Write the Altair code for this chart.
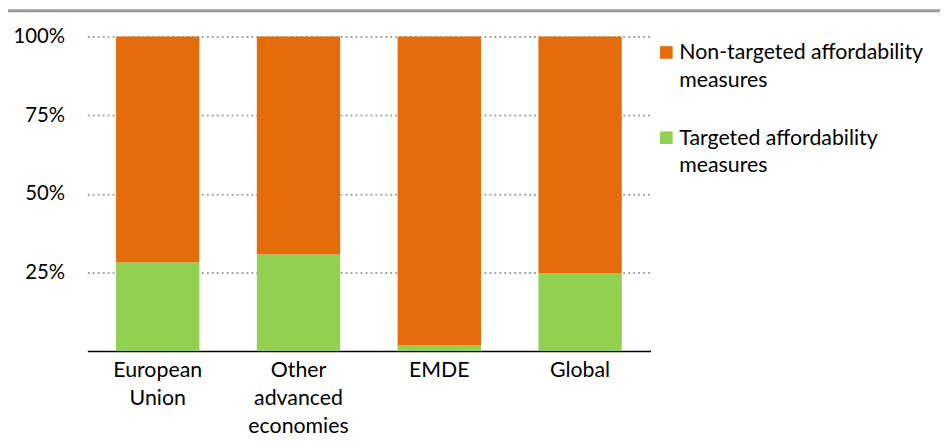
import altair as alt
import pandas as pd

# ---- data ----
regions = ["European|Union", "Other|advanced|economies", "EMDE", "Global"]
series = ["Non-targeted affordability|measures", "Targeted affordability|measures"]
colors = ["#E46C0A", "#92D050"]
targeted = [28.1, 30.7, 1.9, 24.8]
non_targeted = [71.9, 69.3, 98.1, 75.2]
y_ticks = [25, 50, 75, 100]

FONT = "Lato"

rows = []
for i, r in enumerate(regions):
    rows.append({"region": r, "series": series[1], "value": targeted[i], "ord": 0})
    rows.append({"region": r, "series": series[0], "value": non_targeted[i], "ord": 1})
df = pd.DataFrame(rows)

bars = alt.Chart(df).mark_bar().encode(
    x=alt.X("region:N", sort=regions, title=None,
            scale=alt.Scale(paddingInner=0.408, paddingOuter=0.204),
            axis=alt.Axis(labelExpr="split(datum.label, '|')", labelAngle=0,
                          labelFont=FONT, labelFontSize=21.5, labelColor="#000",
                          labelLineHeight=28, labelPadding=9, ticks=False,
                          domainColor="#000", domainWidth=1.5, grid=False,
                          labelBaseline="top")),
    y=alt.Y("value:Q", stack="zero", title=None,
            scale=alt.Scale(domain=[0, 100], nice=False),
            axis=alt.Axis(values=y_ticks, labelExpr="datum.value + '%'",
                          labelFont=FONT, labelFontSize=20.5, labelColor="#000",
                          labelPadding=23, ticks=False, domain=False,
                          grid=True, gridDash=[2, 3], gridWidth=2,
                          gridColor="#A6A6A6")),
    color=alt.Color("series:N", scale=alt.Scale(domain=series, range=colors), legend=None),
    order=alt.Order("ord:Q"),
)

# manual legend
leg_y = [16, 102]
layers = [bars]
for i, s in enumerate(series):
    ldf = pd.DataFrame({"series": [s]})
    sq = alt.Chart(ldf).mark_square(size=161, opacity=1).encode(
        x=alt.value(584), y=alt.value(leg_y[i]),
        color=alt.value(colors[i]),
    )
    tx = alt.Chart(ldf).mark_text(align="left", baseline="middle", font=FONT,
                                  fontSize=21.5, lineHeight=28, color="#000",
                                  dy=1).encode(
        x=alt.value(597), y=alt.value(leg_y[i]),
        text=alt.Text("lines:N"),
    ).transform_calculate(lines="split(datum.series, '|')")
    layers += [sq, tx]

top_line = alt.Chart(pd.DataFrame({"a": [0]})).mark_rule(color="#999999", strokeWidth=3).encode(
    x=alt.value(-80), x2=alt.value(860), y=alt.value(-26)
)
layers.append(top_line)

chart = alt.layer(*layers).properties(
    width=568, height=317,
    autosize=alt.AutoSizeParams(type="none"),
    padding={"left": 80, "top": 27, "right": 292, "bottom": 89},
).configure_view(stroke=None)

chart.save("out.html", embed_options={"renderer": "svg", "actions": False})
